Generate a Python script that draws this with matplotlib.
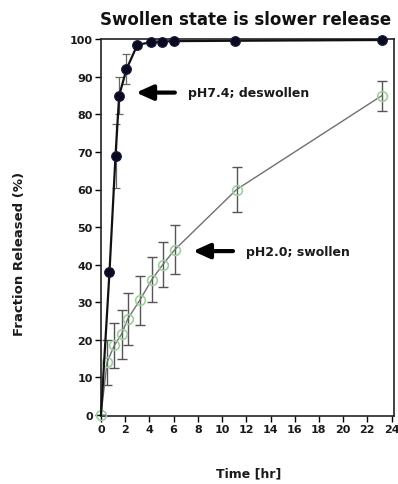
import matplotlib
matplotlib.use("Agg")
import matplotlib.pyplot as plt

# pH 7.4 (deswollen)
t_des = [0, 0.7, 1.2, 1.5, 2.1, 3.0, 4.1, 5.0, 6.0, 11.1, 23.2]
y_des = [0, 38, 69, 85, 92, 98.5, 99.2, 99.4, 99.5, 99.6, 99.8]
e_des = [0, 0, 8.5, 5, 4, 0.5, 0, 0, 0, 0, 0]

# pH 2.0 (swollen)
t_sw = [0, 0.5, 1.1, 1.7, 2.2, 3.2, 4.2, 5.1, 6.1, 11.2, 23.2]
y_sw = [0, 14, 18.5, 21.5, 25.5, 30.5, 36, 40, 44, 60, 85]
e_sw = [0, 6, 6, 6.5, 7, 6.5, 6, 6, 6.5, 6, 4]

xticks = list(range(0, 25, 2))
yticks = list(range(0, 101, 10))

plt.rcParams['font.family'] = ['DejaVu Sans']

fig = plt.figure(figsize=(3.98, 4.85), dpi=100)
ax = fig.add_axes([101/398, 1-417/485, 293/398, 377.5/485])

# swollen series
ax.errorbar(t_sw, y_sw, yerr=e_sw, fmt='none', ecolor='#555555', elinewidth=1.0,
            capsize=3.5, capthick=1.0, zorder=2)
ax.plot(t_sw, y_sw, '-', color='#707070', lw=1.0, zorder=3)
ax.plot(t_sw, y_sw, 'o', ms=7, mfc='none', mec='#9fcf9f', mew=1.2, zorder=4, clip_on=False)

# deswollen series
ax.errorbar(t_des, y_des, yerr=e_des, fmt='none', ecolor='#666666', elinewidth=0.9,
            capsize=3, capthick=0.9, zorder=5)
ax.plot(t_des, y_des, '-', color='#111111', lw=1.6, zorder=6, clip_on=False)
ax.plot(t_des[1:], y_des[1:], 'o', ms=7, mfc='#0a0a1e', mec='#1a1a40', mew=0.8,
        zorder=7, clip_on=False)

ax.set_xlim(0, 24.2)
ax.set_ylim(-0.3, 100.2)
ax.set_xticks(xticks)
ax.set_yticks(yticks)
ax.tick_params(direction='out', length=4, width=1, labelsize=8, pad=2)
for lab in ax.get_xticklabels() + ax.get_yticklabels():
    lab.set_fontweight('bold')
    lab.set_color('#1a1a1a')
for s in ax.spines.values():
    s.set_linewidth(1.2)
    s.set_color('#222222')

fig.text(246/398, 1-20/485, 'Swollen state is slower release', ha='center', va='center',
         fontsize=12, fontweight='bold', color='#111111')
fig.text(20/398, 1-254/485, 'Fraction Released (%)', ha='center', va='center',
         rotation=90, fontsize=9.5, fontweight='bold', color='#1a1a1a')
fig.text(249/398, 1-474/485, 'Time [hr]', ha='center', va='center',
         fontsize=9, fontweight='bold', color='#1a1a1a')

arrow = dict(arrowstyle='-|>,head_length=1.0,head_width=0.45', lw=3, color='black',
             shrinkA=0, shrinkB=0)
ax.annotate('', xy=(2.9, 85.8), xytext=(6.1, 85.8), arrowprops=arrow)
ax.text(7.2, 85.8, 'pH7.4; deswollen', fontsize=9, fontweight='bold', va='center',
        color='#1a1a1a')
ax.annotate('', xy=(7.6, 43.6), xytext=(10.9, 43.6), arrowprops=arrow)
ax.text(12.0, 43.6, 'pH2.0; swollen', fontsize=9, fontweight='bold', va='center',
        color='#1a1a1a')

fig.savefig('out.png', dpi=100)
